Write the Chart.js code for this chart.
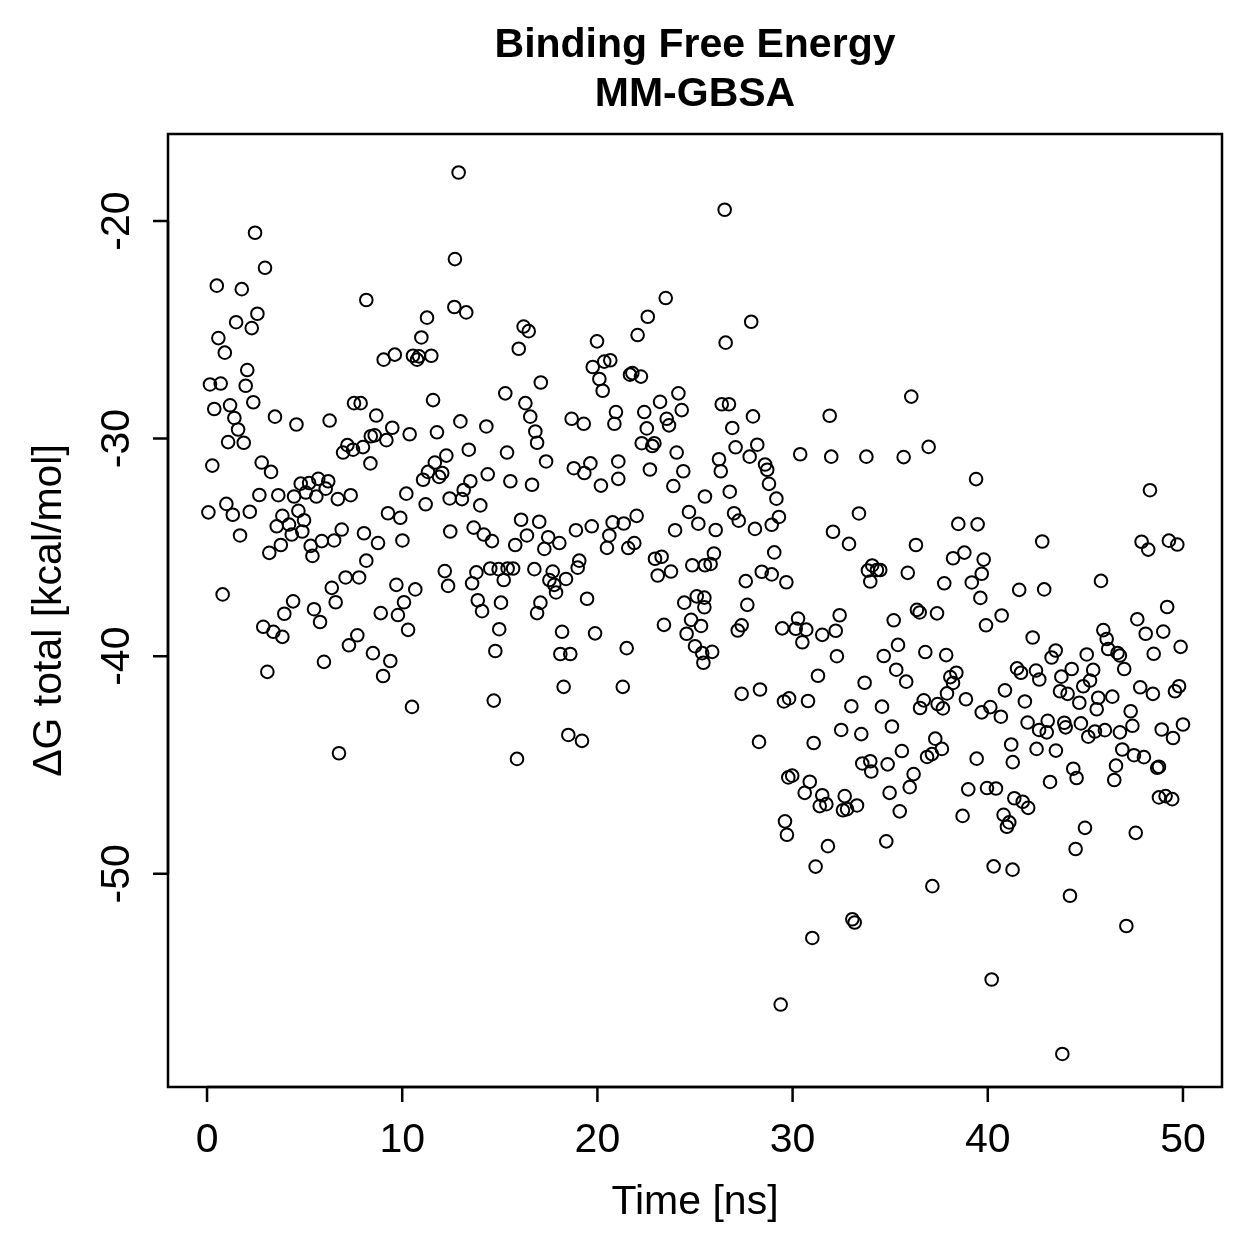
<!DOCTYPE html>
<html>
<head>
<meta charset="utf-8">
<script src="https://cdn.jsdelivr.net/npm/chart.js@4.4.0/dist/chart.umd.min.js"></script>
<style>
  html, body { margin: 0; padding: 0; background: #fff; }
  canvas { display: block; }
</style>
</head>
<body>
<canvas id="mmgbsa" width="1259" height="1259"></canvas>
<script>
// Tiempo de simulación (ns) y ΔG total (kcal/mol)
const timeNs = [
  2.46,2.97,0.50,1.78,2.58,1.49,2.29,0.58,0.91,2.06,0.15,0.70,1.98,2.37,0.37,1.18,1.40,3.48,1.59,1.08,1.88,0.27,2.80,3.28,2.68,3.65,0.99,0.07,1.32,2.19,3.86,3.57,1.69,3.78,3.19,0.80,3.96,2.88,3.40,3.86,3.09,
  8.16,7.53,7.87,4.58,6.28,8.39,7.19,6.97,7.48,7.99,4.46,4.80,5.23,5.70,6.21,5.06,5.60,6.08,6.70,7.36,4.68,4.97,4.20,4.34,4.88,5.31,5.40,5.88,6.51,6.90,8.04,8.16,7.10,7.79,6.39,6.59,4.41,5.48,5.79,7.70,7.27,5.99,6.76,
  12.70,12.67,11.27,10.98,9.05,9.62,10.55,10.76,10.86,11.49,11.58,8.67,9.49,8.59,9.19,10.38,11.78,8.37,11.67,12.26,11.32,11.07,12.05,11.89,10.21,11.20,12.43,9.27,9.90,8.76,10.01,12.46,9.70,10.67,12.18,12.35,10.09,9.78,8.90,10.30,8.50,9.39,9.02,10.50,
  12.89,13.28,16.22,16.48,15.97,15.28,16.31,16.56,12.98,14.31,16.82,13.41,15.37,14.38,15.54,13.49,13.15,16.65,13.06,14.00,13.66,14.18,14.60,16.09,16.39,15.79,13.80,13.58,14.51,14.94,15.40,15.68,15.20,16.77,13.87,14.09,15.06,16.91,14.97,14.77,14.69,15.88,
  19.98,19.76,20.35,20.66,17.10,20.10,20.27,18.68,19.30,20.95,20.87,16.91,17.37,18.79,19.33,19.64,21.07,20.18,21.07,17.02,17.48,17.28,18.05,18.90,19.71,20.78,20.61,20.49,21.35,17.71,17.54,17.79,17.88,18.39,18.99,19.07,19.47,17.08,18.19,19.88,18.10,18.61,18.27,21.30,18.51,19.21,
  23.50,22.58,22.06,21.67,21.79,22.23,24.15,23.21,24.32,22.40,23.55,23.67,22.53,22.27,22.81,22.92,24.06,22.69,24.40,23.89,25.51,24.69,25.17,22.01,21.58,21.89,23.98,22.95,23.29,23.09,23.77,24.86,25.51,25.09,24.45,25.48,25.48,24.80,25.31,24.57,25.00,25.37,23.41,21.50,
  26.52,27.88,26.57,26.37,26.74,27.97,26.91,27.08,28.19,27.80,28.59,28.70,26.23,26.32,28.79,26.78,29.17,29.30,28.93,27.00,27.24,28.07,26.06,25.97,25.80,29.06,29.68,27.60,28.42,28.93,27.68,25.88,25.43,27.39,27.19,29.47,27.39,28.33,29.56,29.82,28.28,29.78,29.61,29.39,
  31.90,30.39,31.98,33.78,33.40,32.07,32.89,34.08,33.86,32.41,30.28,30.16,30.70,30.50,31.52,32.21,32.27,31.30,33.69,30.79,33.01,32.49,33.52,31.08,33.57,33.98,34.03,29.98,30.62,30.88,31.52,31.39,31.73,32.67,32.58,32.79,33.30,29.71,31.81,31.18,33.06,33.18,31.01,
  36.08,35.69,36.97,36.32,34.32,34.49,33.98,35.90,38.22,37.77,36.37,36.51,37.40,35.18,35.40,34.67,36.80,37.87,35.31,35.82,38.08,38.39,38.22,37.91,36.72,36.53,37.43,37.70,34.58,35.09,37.31,37.65,36.89,37.14,35.60,34.87,36.20,36.00,34.97,35.49,34.80,37.16,
  39.40,38.49,39.48,38.80,39.79,39.69,39.18,39.62,41.61,40.71,39.91,42.30,41.50,41.70,42.47,42.64,40.88,38.88,39.69,40.13,40.67,41.90,42.04,42.63,41.20,42.50,39.43,41.28,39.00,39.96,40.42,41.36,41.79,42.07,38.71,40.81,41.10,40.98,40.30,41.27,40.20,
  42.79,45.80,42.89,45.92,46.09,46.17,46.65,46.77,46.99,43.48,43.27,45.07,44.30,43.77,45.40,45.24,44.89,43.70,44.09,44.69,45.66,46.38,45.58,44.77,43.07,43.02,43.92,43.99,45.15,45.49,46.00,46.77,43.49,46.89,46.57,44.38,44.55,46.48,43.19,44.98,44.50,44.21,47.10,43.82,
  48.31,47.88,48.22,49.28,49.71,49.19,47.66,48.09,48.99,49.88,48.50,47.81,48.46,49.59,49.80,47.32,47.41,48.91,49.49,50.00,47.49,48.00,48.68,48.77,48.77,49.11,49.45,47.58
];

const deltaG = [
  -20.54,-22.15,-22.97,-23.13,-24.26,-24.65,-24.92,-25.38,-26.05,-26.85,-27.51,-27.47,-27.57,-28.33,-28.64,-28.47,-29.05,-28.99,-29.58,-30.16,-30.19,-31.24,-31.10,-31.53,-32.59,-32.60,-33.00,-33.39,-33.50,-33.36,-33.55,-34.03,-34.45,-34.89,-35.25,-37.16,-38.05,-38.65,-38.88,-39.11,-40.72,
  -23.63,-28.37,-28.37,-29.35,-29.17,-29.89,-30.30,-30.64,-30.51,-30.39,-32.66,-32.07,-32.04,-31.85,-31.96,-32.48,-32.66,-32.30,-32.78,-32.60,-33.32,-33.75,-33.95,-34.41,-34.27,-34.93,-35.39,-34.71,-34.68,-34.18,-34.35,-35.61,-36.38,-36.38,-36.86,-37.52,-37.48,-37.84,-38.43,-39.04,-39.50,-40.26,-44.46,
  -21.75,-23.95,-24.44,-25.35,-26.37,-26.14,-26.19,-26.37,-26.22,-26.19,-28.23,-28.94,-29.50,-29.85,-30.07,-29.80,-29.71,-31.14,-31.10,-30.78,-31.53,-31.89,-31.58,-31.76,-32.53,-33.02,-32.75,-33.43,-33.64,-34.80,-34.68,-34.27,-36.72,-36.93,-36.09,-36.77,-37.52,-38.11,-38.02,-38.79,-39.86,-40.22,-40.91,-42.33,
  -17.77,-24.20,-24.85,-25.06,-25.87,-27.92,-28.37,-28.99,-29.21,-29.44,-29.67,-30.51,-30.64,-31.64,-31.96,-31.96,-32.36,-32.12,-32.78,-33.07,-34.09,-34.41,-34.71,-33.73,-34.45,-34.89,-36.15,-36.65,-35.97,-36.00,-35.97,-35.97,-36.50,-36.00,-37.43,-37.93,-37.54,-38.02,-38.76,-39.76,-42.04,-44.72,
  -25.53,-26.71,-26.46,-26.40,-27.42,-27.26,-27.80,-29.09,-29.32,-28.78,-29.32,-30.19,-31.05,-31.36,-31.58,-31.14,-31.05,-32.16,-31.85,-33.82,-34.53,-35.07,-34.80,-34.21,-34.03,-33.85,-34.45,-35.02,-33.90,-36.11,-36.50,-36.72,-37.07,-36.45,-35.93,-35.61,-37.36,-37.54,-38.88,-38.95,-39.90,-39.90,-41.41,-41.41,-43.62,-43.89,
  -23.54,-24.40,-25.24,-27.06,-26.99,-27.15,-27.92,-28.31,-28.69,-28.78,-29.09,-29.39,-29.53,-30.21,-30.34,-30.21,-30.64,-31.42,-31.50,-32.18,-32.66,-33.37,-33.91,-33.55,-35.03,-34.80,-34.21,-35.52,-35.43,-36.29,-36.11,-35.82,-35.82,-37.25,-37.54,-37.31,-37.75,-38.33,-38.61,-38.97,-39.54,-39.86,-38.56,-39.63,
  -19.48,-24.63,-25.59,-28.42,-28.42,-28.98,-29.51,-30.40,-30.28,-30.83,-31.19,-31.43,-30.95,-31.50,-32.08,-32.44,-32.76,-33.60,-33.96,-33.43,-33.77,-34.15,-34.20,-35.28,-35.76,-35.23,-36.60,-36.55,-36.12,-36.24,-37.64,-39.80,-40.30,-38.58,-38.82,-38.72,-41.73,-41.53,-42.08,-41.94,-43.94,-45.57,-47.59,-56.01,
  -28.95,-30.72,-30.83,-30.83,-33.44,-34.28,-34.84,-35.83,-36.06,-38.12,-38.27,-38.74,-38.78,-39.36,-39.02,-38.83,-40.00,-40.90,-41.22,-42.06,-42.30,-43.39,-43.58,-43.99,-44.93,-44.83,-45.30,-45.49,-46.28,-45.77,-46.39,-46.89,-46.80,-46.43,-47.08,-47.03,-46.86,-48.21,-48.73,-49.67,-52.09,-52.24,-52.95,
  -28.07,-30.85,-30.38,-34.89,-36.04,-36.04,-36.57,-36.17,-35.50,-36.65,-37.87,-37.99,-38.03,-38.35,-39.48,-39.99,-39.81,-39.95,-40.62,-41.17,-40.96,-40.76,-41.23,-41.71,-42.03,-42.38,-42.20,-42.40,-42.32,-43.23,-43.79,-44.26,-44.63,-44.50,-44.36,-44.97,-45.42,-46.02,-46.28,-47.13,-48.51,-50.57,
  -31.86,-33.92,-33.94,-35.24,-35.56,-36.21,-36.61,-37.32,-36.95,-38.13,-38.58,-39.14,-40.56,-40.76,-40.66,-41.07,-41.57,-41.98,-42.58,-42.34,-42.78,-42.08,-43.05,-43.39,-44.06,-44.26,-44.71,-44.87,-46.12,-46.06,-46.08,-46.53,-46.69,-46.97,-47.34,-47.29,-47.64,-47.84,-49.66,-49.81,-54.86,
  -34.73,-36.54,-36.93,-38.80,-39.21,-39.67,-39.85,-39.97,-40.59,-39.74,-40.06,-39.92,-40.59,-40.94,-40.63,-41.12,-41.38,-41.61,-41.73,-42.14,-41.91,-41.86,-42.44,-43.09,-42.97,-43.50,-43.06,-43.27,-43.70,-43.46,-43.40,-43.50,-44.34,-44.29,-45.03,-45.17,-45.60,-45.69,-45.78,-47.89,-48.86,-51.01,-52.40,-58.28,
  -32.37,-34.74,-35.10,-34.69,-34.87,-37.74,-38.30,-38.97,-38.87,-39.57,-39.89,-41.43,-41.73,-41.61,-41.38,-42.53,-43.20,-43.37,-43.76,-43.14,-44.55,-44.64,-45.13,-45.08,-46.49,-46.43,-46.57,-48.12
];

const xTicks = [0, 10, 20, 30, 40, 50];
const yTicks = [-20, -30, -40, -50];
const titleLines = ['Binding Free Energy', 'MM-GBSA'];
const xLabel = 'Time [ns]';
const yLabel = 'ΔG total [kcal/mol]';

const FONT = '"Liberation Sans", Arial, Helvetica, sans-serif';

// Marco estilo R: caja, marcas, etiquetas y títulos
const rFrame = {
  id: 'rFrame',
  afterDraw(chart) {
    const { ctx, chartArea: a, scales: { x, y } } = chart;
    ctx.save();
    ctx.strokeStyle = '#000';
    ctx.fillStyle = '#000';
    ctx.lineWidth = 2.5;
    ctx.strokeRect(a.left, a.top, a.right - a.left, a.bottom - a.top);

    const tick = 15;
    ctx.font = '41px ' + FONT;
    ctx.textAlign = 'center';
    ctx.textBaseline = 'middle';

    // eje x
    const x0 = x.getPixelForValue(xTicks[0]);
    const x1 = x.getPixelForValue(xTicks[xTicks.length - 1]);
    ctx.beginPath();
    ctx.moveTo(x0, a.bottom); ctx.lineTo(x1, a.bottom);
    xTicks.forEach(v => {
      const px = x.getPixelForValue(v);
      ctx.moveTo(px, a.bottom); ctx.lineTo(px, a.bottom + tick);
    });
    ctx.stroke();
    xTicks.forEach(v => ctx.fillText(String(v), x.getPixelForValue(v), 1141));

    // eje y
    const y0 = y.getPixelForValue(yTicks[0]);
    const y1 = y.getPixelForValue(yTicks[yTicks.length - 1]);
    ctx.beginPath();
    ctx.moveTo(a.left, y0); ctx.lineTo(a.left, y1);
    yTicks.forEach(v => {
      const py = y.getPixelForValue(v);
      ctx.moveTo(a.left - tick, py); ctx.lineTo(a.left, py);
    });
    ctx.stroke();
    yTicks.forEach(v => {
      ctx.save();
      ctx.translate(118, y.getPixelForValue(v));
      ctx.rotate(-Math.PI / 2);
      ctx.fillText(String(v), 0, 0);
      ctx.restore();
    });

    // títulos de ejes
    const cx = (a.left + a.right) / 2;
    const cy = (a.top + a.bottom) / 2;
    ctx.fillText(xLabel, cx, 1203);
    ctx.save();
    ctx.translate(50, cy);
    ctx.rotate(-Math.PI / 2);
    ctx.fillText(yLabel, 0, 0);
    ctx.restore();

    // título principal
    ctx.font = 'bold 41px ' + FONT;
    ctx.fillText(titleLines[0], cx, 46);
    ctx.fillText(titleLines[1], cx, 95);
    ctx.restore();
  }
};

const points = timeNs.map((t, i) => ({ x: t, y: deltaG[i] }));

new Chart(document.getElementById('mmgbsa'), {
  type: 'scatter',
  data: {
    datasets: [{
      label: 'ΔG total',
      data: points,
      pointRadius: 6.3,
      pointHoverRadius: 6.3,
      pointBorderWidth: 2,
      borderColor: '#000',
      backgroundColor: 'rgba(0,0,0,0)'
    }]
  },
  options: {
    responsive: false,
    animation: false,
    events: [],
    layout: { padding: { left: 168, right: 37, top: 134, bottom: 172 } },
    plugins: {
      legend: { display: false },
      title: { display: false },
      tooltip: { enabled: false }
    },
    scales: {
      x: { type: 'linear', min: -2, max: 52, display: false },
      y: { type: 'linear', min: -59.8, max: -16.0, display: false }
    }
  },
  plugins: [rFrame]
});
</script>
</body>
</html>
